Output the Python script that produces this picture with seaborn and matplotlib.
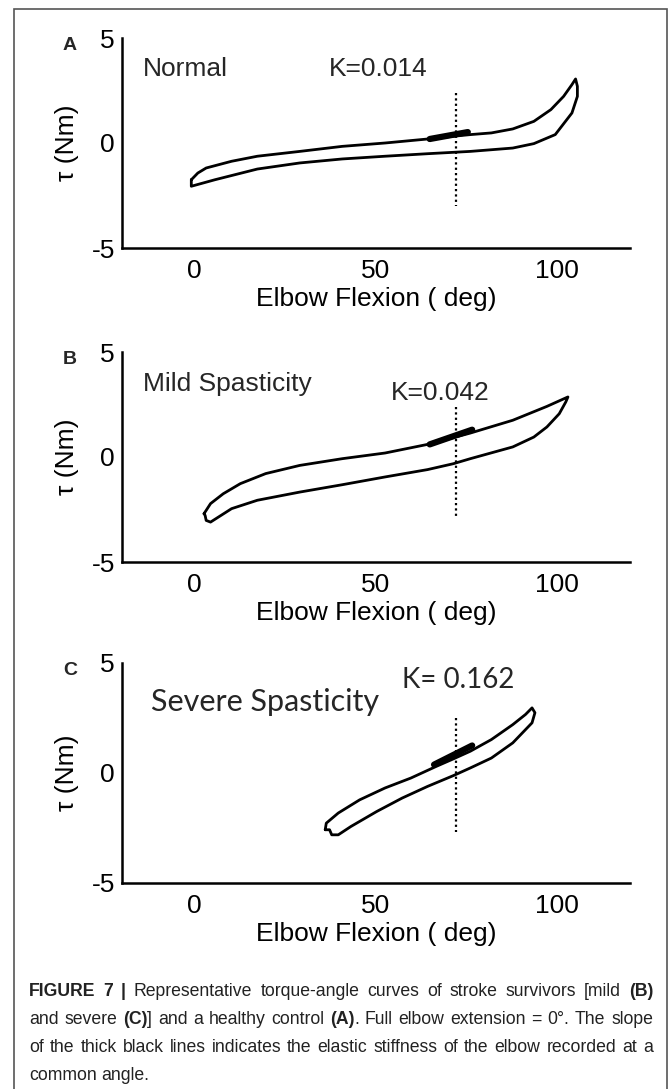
import numpy as np
import pandas as pd
import matplotlib
matplotlib.use("Agg")
import matplotlib.pyplot as plt
import seaborn as sns
from matplotlib import font_manager
from matplotlib.patches import Rectangle

# torque-angle loops (angle in deg, torque in Nm)
# upper branch goes left -> right, lower branch comes back right -> left
a_up_x = [-0.9, 0.9, 3.2, 10.2, 17.3, 29.0, 40.7, 52.5, 64.2, 71.3, 76.0, 81.8, 87.7, 93.5, 98.2, 101.7, 104.0, 105.0]
a_up_y = [-1.75, -1.43, -1.19, -0.87, -0.63, -0.40, -0.16, 0.0, 0.19, 0.32, 0.40, 0.48, 0.67, 1.03, 1.59, 2.22, 2.78, 3.05]
a_lo_x = [105.5, 105.5, 104.0, 99.4, 93.5, 87.7, 76.0, 64.2, 52.5, 40.7, 29.0, 17.3, 5.6, -0.9, -0.9]
a_lo_y = [2.70, 2.22, 1.43, 0.40, -0.03, -0.24, -0.40, -0.51, -0.63, -0.76, -0.95, -1.24, -1.75, -2.06, -1.75]

b_up_x = [2.6, 4.4, 7.9, 12.6, 19.6, 29.0, 40.7, 52.5, 64.2, 71.3, 76.0, 87.7, 97.1, 102.9]
b_up_y = [-2.70, -2.22, -1.75, -1.27, -0.79, -0.40, -0.08, 0.19, 0.60, 0.92, 1.14, 1.75, 2.41, 2.86]
b_lo_x = [102.3, 100.5, 97.1, 93.5, 87.7, 76.0, 71.3, 64.2, 52.5, 40.7, 29.0, 17.3, 10.2, 4.4, 3.2, 2.9, 2.6]
b_lo_y = [2.62, 2.06, 1.43, 0.95, 0.48, -0.08, -0.32, -0.60, -0.95, -1.32, -1.67, -2.06, -2.46, -3.10, -3.02, -2.78, -2.70]

c_up_x = [36.0, 36.3, 39.6, 45.5, 52.5, 59.6, 66.6, 71.3, 76.0, 81.8, 87.7, 91.2, 93.0]
c_up_y = [-2.58, -2.28, -1.82, -1.22, -0.68, -0.23, 0.30, 0.64, 0.99, 1.52, 2.20, 2.66, 2.96]
c_lo_x = [93.8, 93.0, 87.7, 81.8, 76.0, 71.3, 64.2, 57.2, 50.2, 43.1, 39.6, 37.8, 37.2, 36.0]
c_lo_y = [2.74, 2.28, 1.37, 0.68, 0.23, -0.12, -0.61, -1.14, -1.75, -2.43, -2.81, -2.81, -2.58, -2.58]

# thick stiffness segments
seg_x = [[64.8, 75.3], [64.8, 76.5], [66.0, 76.5]]
seg_y = [[0.19, 0.52], [0.60, 1.30], [0.38, 1.25]]

# dotted common-angle line
common_angle = 72
dot_y = [[2.38, -3.0], [2.38, -2.8], [2.5, -2.7]]

letters = ["A", "B", "C"]
groups = ["Normal", "Mild Spasticity", "Severe Spasticity"]
k_labels = ["K=0.014", "K=0.042", "K= 0.162"]
x_ticks = [0, 50, 100]
y_ticks = [-5, 0, 5]

caption = [
    [("FIGURE 7 | ", "bold"), ("Representative torque-angle curves of stroke survivors [mild ", "normal"), ("(B)", "bold")],
    [("and severe ", "normal"), ("(C)", "bold"), ("] and a healthy control ", "normal"), ("(A)", "bold"),
     (". Full elbow extension = 0°. The slope", "normal")],
    [("of the thick black lines indicates the elastic stiffness of the elbow recorded at a", "normal")],
    [("common angle.", "normal")],
]

sns.set_theme(style="white")
plt.rcParams["font.family"] = ["Liberation Sans", "DejaVu Sans"]
plt.rcParams["axes.unicode_minus"] = False

W, H = 669, 1089
fig = plt.figure(figsize=(W / 100, H / 100), dpi=100)

# axes boxes in pixels: (top, bottom)
boxes = [(38, 248), (352, 562), (663, 883)]
left_px, right_px = 122, 630

loops = [(a_up_x, a_up_y, a_lo_x, a_lo_y), (b_up_x, b_up_y, b_lo_x, b_lo_y), (c_up_x, c_up_y, c_lo_x, c_lo_y)]

for i, (top, bot) in enumerate(boxes):
    ax = fig.add_axes([left_px / W, 1 - bot / H, (right_px - left_px) / W, (bot - top) / H])
    ux, uy, lx, ly = loops[i]
    df = pd.DataFrame({"angle": ux + lx + [ux[0]], "torque": uy + ly + [uy[0]]})
    sns.lineplot(data=df, x="angle", y="torque", sort=False, estimator=None,
                 color="black", lw=2.0, ax=ax)
    sns.lineplot(x=seg_x[i], y=seg_y[i], sort=False, estimator=None, color="black", lw=4.5, ax=ax)
    ax.plot([common_angle, common_angle], dot_y[i], color="black", lw=1.6, linestyle=(0, (1, 1.4)))

    ax.set_xlim(-20, 120)
    ax.set_ylim(-5, 5)
    ax.set_xticks(x_ticks)
    ax.set_yticks(y_ticks)
    ax.set_yticklabels([str(t) for t in y_ticks])
    for s in ["top", "right"]:
        ax.spines[s].set_visible(False)
    for s in ["left", "bottom"]:
        ax.spines[s].set_linewidth(1.8)
        ax.spines[s].set_color("black")
    ax.tick_params(direction="in", length=5, width=1.5, labelsize=19, colors="black", pad=8)
    ax.tick_params(axis="y", pad=5)
    ax.set_xlabel("Elbow Flexion ( deg)", fontsize=19, labelpad=3, color="black")
    ax.set_ylabel("τ (Nm)", fontsize=19, color="black")
    ax.yaxis.set_label_coords(-0.085, 0.5)

    fig.text(70 / W, 1 - (top + 7.5) / H, letters[i], fontsize=14, fontweight="bold", ha="center", va="center")

# in-panel annotations
axs = fig.axes
axs[0].text(-14.3, 3.5, groups[0], fontsize=19, va="center")
axs[0].text(37.1, 3.5, k_labels[0], fontsize=19, va="center")
axs[1].text(-14.3, 3.5, groups[1], fontsize=19, va="center")
axs[1].text(54.1, 3.03, k_labels[1], fontsize=19, va="center")
axs[2].text(-12.1, 3.24, groups[2], fontsize=22, va="center", family=["Lato", "DejaVu Sans"])
axs[2].text(57.1, 4.24, k_labels[2], fontsize=20, va="center", family=["Lato", "DejaVu Sans"])

# outer frame
fig.patches.append(Rectangle((14 / W, -0.01), (667 - 14) / W, 1 - 9 / H + 0.01,
                             transform=fig.transFigure, fill=False, ec="#555555", lw=1.2))

# caption, justified, with mixed bold runs
names = {f.name for f in font_manager.fontManager.ttflist}
cap_font = "Liberation Sans Narrow" if "Liberation Sans Narrow" in names else "Liberation Sans"
renderer = fig.canvas.get_renderer()


def words_of(segs):
    words = [[]]
    for txt, wgt in segs:
        parts = txt.split(" ")
        for j, p in enumerate(parts):
            if j > 0:
                words.append([])
            if p:
                words[-1].append((p, wgt))
    return [w for w in words if w]


def run_width(txt, wgt, size):
    t = fig.text(0, 0, txt, fontsize=size, fontweight=wgt, family=cap_font)
    w = t.get_window_extent(renderer).width
    t.remove()
    return w


cap_left, cap_right = 29, 653
base = 15.0
space = run_width("x x", "normal", base) - run_width("xx", "normal", base)
natural = []
for segs in caption:
    ws = words_of(segs)
    natural.append(sum(run_width(r, g, base) for w in ws for r, g in w) + space * (len(ws) - 1))
cap_size = base * (cap_right - cap_left) / max(natural) * 0.985
space = run_width("x x", "normal", cap_size) - run_width("xx", "normal", cap_size)

# baselines of caption lines
cap_y = [996, 1024, 1052, 1080]
for li, (segs, yp) in enumerate(zip(caption, cap_y)):
    ws = words_of(segs)
    widths = [sum(run_width(r, g, cap_size) for r, g in w) for w in ws]
    if li < len(caption) - 1 and len(ws) > 1:
        gap = (cap_right - cap_left - sum(widths)) / (len(ws) - 1)
    else:
        gap = space
    xp = cap_left
    for w, ww in zip(ws, widths):
        xr = xp
        for r, g in w:
            t = fig.text(xr / W, 1 - yp / H, r, fontsize=cap_size, fontweight=g,
                         family=cap_font, va="baseline", color="#222222")
            xr += t.get_window_extent(renderer).width
        xp += ww + gap

fig.savefig("out.png", dpi=100)
